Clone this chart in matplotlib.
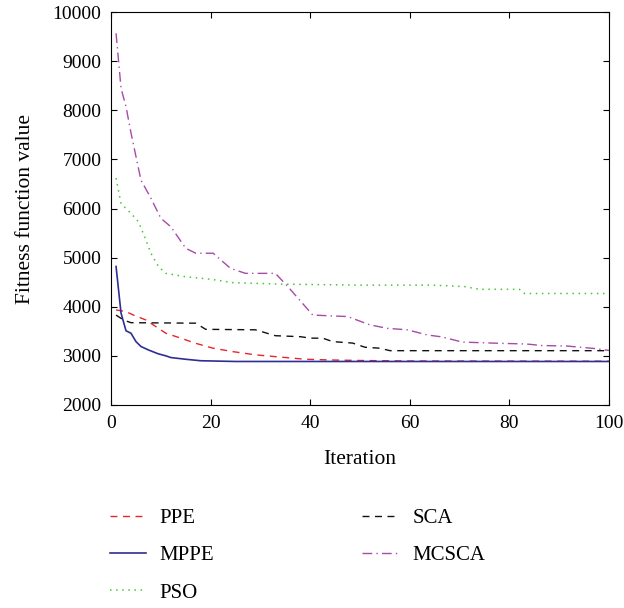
"""Convergence curves of five optimisers (fitness vs. iteration)."""

import matplotlib.pyplot as plt

plt.rcParams["font.family"] = ["Liberation Serif", "DejaVu Serif"]

# vertices (iteration, fitness)
ppe_x = [1, 3, 4.5, 7, 9, 11, 14, 17, 20.5, 24.5, 29, 34.5, 39, 44.5, 50, 60, 100]
ppe_y = [3935, 3900, 3830, 3730, 3595, 3460, 3360, 3255, 3155, 3085, 3020, 2970,
         2930, 2915, 2905, 2895, 2890]

mppe_x = [1, 2, 3, 4, 5, 6, 7.5, 9.5, 11, 12, 15, 18, 25, 100]
mppe_y = [4820, 3870, 3510, 3460, 3290, 3190, 3120, 3040, 3000, 2965, 2930, 2900,
          2885, 2885]

pso_x = [1, 2, 4, 5.5, 7, 8, 9.5, 11, 15, 20, 24.5, 34.5, 50, 64.5, 71, 74, 82,
         83, 100]
pso_y = [6620, 6100, 5900, 5730, 5360, 5090, 4820, 4680, 4610, 4560, 4490, 4460,
         4440, 4440, 4410, 4355, 4355, 4270, 4270]

sca_x = [1, 2.5, 4, 17, 19, 29, 33, 38, 40, 42.5, 44.5, 48.5, 51, 54, 56, 100]
sca_y = [3830, 3730, 3675, 3665, 3540, 3530, 3410, 3390, 3360, 3360, 3290, 3260,
         3175, 3155, 3105, 3105]

mcsca_x = [1, 2, 3, 4, 5, 6, 8, 10, 12, 15, 17, 20.5, 24, 27, 33, 35.5, 38, 40.5,
           47.5, 52, 55.5, 59.5, 63.5, 66.5, 70.5, 76.5, 83.5, 86.5, 91.5, 97, 100]
mcsca_y = [9570, 8450, 8075, 7540, 7060, 6580, 6210, 5800, 5630, 5190, 5090, 5090,
           4780, 4680, 4680, 4410, 4120, 3830, 3800, 3630, 3560, 3530, 3425, 3385,
           3280, 3260, 3240, 3210, 3200, 3150, 3110]

fig = plt.figure(figsize=(6.24, 6.08), dpi=100)
ax = fig.add_axes([0.178, 0.334, 0.798, 0.646])

ax.plot(ppe_x, ppe_y, color="#e8262a", linestyle=(0, (5, 4)), lw=1.0, label="PPE")
ax.plot(mppe_x, mppe_y, color="#2e2e96", linestyle="-", lw=1.2, label="MPPE")
ax.plot(pso_x, pso_y, color="#4cc43a", linestyle=(0, (1, 3)), lw=1.1, label="PSO")
ax.plot(sca_x, sca_y, color="#111111", linestyle=(0, (5, 4)), lw=1.0, label="SCA")
ax.plot(mcsca_x, mcsca_y, color="#a84aa8", linestyle=(0, (7, 3, 1, 3)), lw=1.0,
        label="MCSCA")

ax.set_xlim(0, 100)
ax.set_ylim(2000, 10000)
ax.set_xticks([0, 20, 40, 60, 80, 100])
ax.set_yticks(range(2000, 10001, 1000))
ax.tick_params(direction="in", top=True, right=True, labelsize=14, length=4, pad=7)
ax.set_xlabel("Iteration", fontsize=15.5)
ax.set_ylabel("Fitness function value", fontsize=15.5)
ax.xaxis.set_label_coords(0.5, -0.115)
ax.yaxis.set_label_coords(-0.152, 0.5)

fig.legend(loc="upper left", bbox_to_anchor=(0.146, 0.194), ncol=2, frameon=False,
           fontsize=15, handlelength=1.75, handletextpad=0.65, columnspacing=7.1,
           labelspacing=0.84)

fig.savefig("out.png", dpi=100)
